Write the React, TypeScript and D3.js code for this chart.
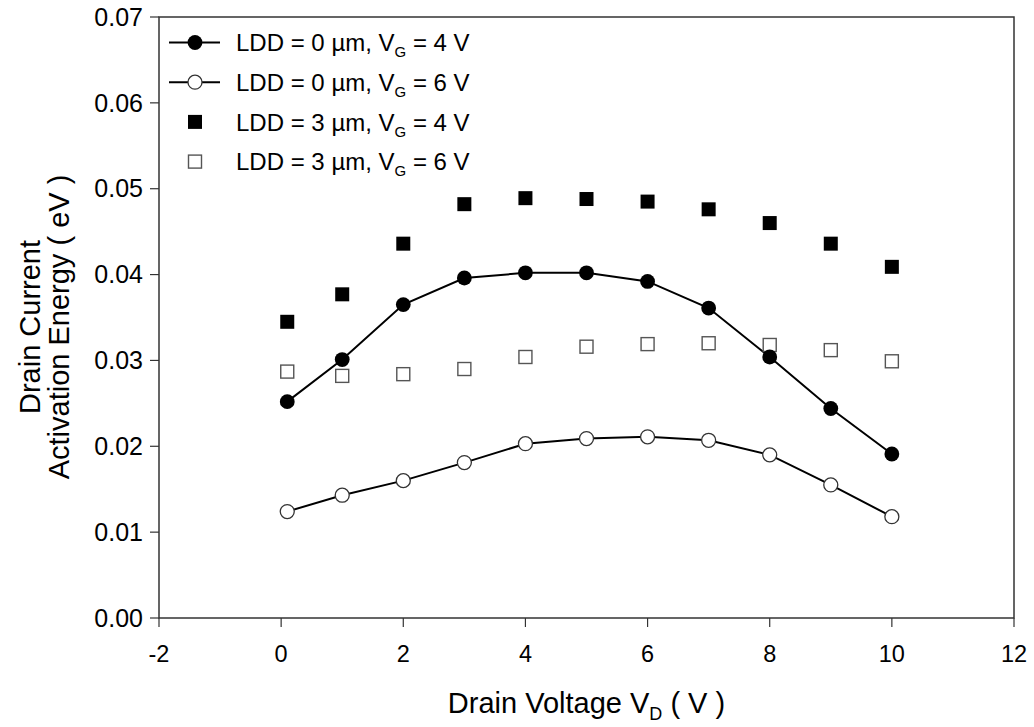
import React from "react";
import * as d3 from "d3";

const xValues = [0.1, 1, 2, 3, 4, 5, 6, 7, 8, 9, 10];
const ldd0Vg4 = [0.0252, 0.0301, 0.0365, 0.0396, 0.0402, 0.0402, 0.0392, 0.0361, 0.0304, 0.0244, 0.0191];
const ldd0Vg6 = [0.0124, 0.0143, 0.0160, 0.0181, 0.0203, 0.0209, 0.0211, 0.0207, 0.0190, 0.0155, 0.0118];
const ldd3Vg4 = [0.0345, 0.0377, 0.0436, 0.0482, 0.0489, 0.0488, 0.0485, 0.0476, 0.0460, 0.0436, 0.0409];
const ldd3Vg6 = [0.0287, 0.0282, 0.0284, 0.0290, 0.0304, 0.0316, 0.0319, 0.0320, 0.0318, 0.0312, 0.0299];

const xTicks = [-2, 0, 2, 4, 6, 8, 10, 12];
const yTicks = [0, 0.01, 0.02, 0.03, 0.04, 0.05, 0.06, 0.07];

const legendItems = [
  { ldd: "0", vg: "4", kind: "filledCircle" },
  { ldd: "0", vg: "6", kind: "openCircle" },
  { ldd: "3", vg: "4", kind: "filledSquare" },
  { ldd: "3", vg: "6", kind: "openSquare" },
];

const W = 1034;
const H = 727;
const left = 159;
const right = 1014;
const top = 17;
const bottom = 618;
const font = "'Liberation Sans', Arial, Helvetica, sans-serif";

function Marker({ kind, cx, cy }: { kind: string; cx: number; cy: number }) {
  if (kind === "filledCircle") return <circle cx={cx} cy={cy} r={7.4} fill="#000" />;
  if (kind === "openCircle")
    return <circle cx={cx} cy={cy} r={7} fill="#fff" stroke="#333" strokeWidth={1.3} />;
  if (kind === "filledSquare")
    return <rect x={cx - 7} y={cy - 7} width={14} height={14} fill="#000" />;
  return <rect x={cx - 6.5} y={cy - 6.5} width={13} height={13} fill="#fff" stroke="#555" strokeWidth={1.4} />;
}

export default function App() {
  const x = d3.scaleLinear().domain([-2, 12]).range([left, right]);
  const y = d3.scaleLinear().domain([0, 0.07]).range([bottom, top]);
  const line = d3
    .line<number>()
    .x((_, i) => x(xValues[i]))
    .y((d) => y(d));
  const fmt = d3.format(".2f");
  const yMid = 327;

  return (
    <svg
      width={W}
      height={H}
      style={{ position: "absolute", left: 0, top: 0, background: "#fff" }}
      fontFamily={font}
    >
      <rect x={0} y={0} width={W} height={H} fill="#fff" />
      {/* frame */}
      <rect x={left} y={top} width={right - left} height={bottom - top} fill="none" stroke="#333" strokeWidth={1.5} />
      {/* x ticks */}
      {xTicks.map((t) => (
        <g key={"x" + t}>
          <line x1={x(t)} x2={x(t)} y1={bottom} y2={bottom + 9} stroke="#333" strokeWidth={1.2} />
          <text x={x(t)} y={662} fontSize={23.5} textAnchor="middle" fill="#000">
            {t}
          </text>
        </g>
      ))}
      {/* y ticks */}
      {yTicks.map((t) => (
        <g key={"y" + t}>
          <line x1={left - 9} x2={left} y1={y(t)} y2={y(t)} stroke="#333" strokeWidth={1.2} />
          <text x={143} y={y(t)} dy="0.35em" fontSize={25} textAnchor="end" fill="#000">
            {fmt(t)}
          </text>
        </g>
      ))}
      {/* axis titles */}
      <text x={(left + right) / 2} y={713} fontSize={29} textAnchor="middle" fill="#000">
        Drain Voltage V
        <tspan fontSize={18} dy={7}>D</tspan>
        <tspan dy={-7}> ( V )</tspan>
      </text>
      <g transform={`translate(40, ${yMid}) rotate(-90)`}>
        <text x={0} y={0} fontSize={29} textAnchor="middle" fill="#000">
          Drain Current
        </text>
      </g>
      <g transform={`translate(69, ${yMid}) rotate(-90)`}>
        <text x={0} y={0} fontSize={29} textAnchor="middle" fill="#000">
          Activation Energy ( eV )
        </text>
      </g>
      {/* series */}
      <path d={line(ldd0Vg4) || ""} fill="none" stroke="#000" strokeWidth={2} />
      <path d={line(ldd0Vg6) || ""} fill="none" stroke="#000" strokeWidth={2} />
      {ldd3Vg6.map((v, i) => (
        <Marker key={"os" + i} kind="openSquare" cx={x(xValues[i])} cy={y(v)} />
      ))}
      {ldd3Vg4.map((v, i) => (
        <Marker key={"fs" + i} kind="filledSquare" cx={x(xValues[i])} cy={y(v)} />
      ))}
      {ldd0Vg6.map((v, i) => (
        <Marker key={"oc" + i} kind="openCircle" cx={x(xValues[i])} cy={y(v)} />
      ))}
      {ldd0Vg4.map((v, i) => (
        <Marker key={"fc" + i} kind="filledCircle" cx={x(xValues[i])} cy={y(v)} />
      ))}
      {/* legend */}
      {legendItems.map((it, i) => {
        const cy = 42.5 + i * 39.7;
        const hasLine = it.kind.includes("Circle");
        return (
          <g key={"lg" + i}>
            {hasLine && <line x1={169} x2={220} y1={cy} y2={cy} stroke="#000" strokeWidth={2} />}
            <Marker kind={it.kind} cx={195} cy={cy} />
            <text x={236} y={cy} dy="0.36em" fontSize={24} fill="#000">
              {`LDD = ${it.ldd} \u00B5m, V`}
              <tspan fontSize={15} dy={6}>G</tspan>
              <tspan dy={-6}>{` = ${it.vg} V`}</tspan>
            </text>
          </g>
        );
      })}
    </svg>
  );
}
